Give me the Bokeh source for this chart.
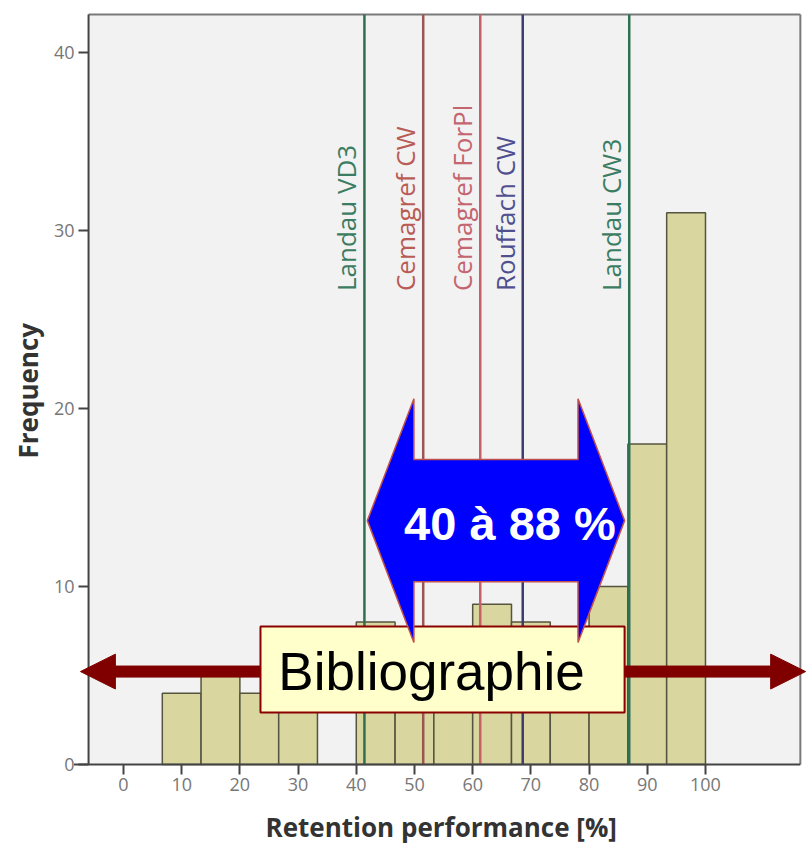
import numpy as np
from bokeh.plotting import figure
from bokeh.models import Range1d, FixedTicker, ColumnDataSource
from bokeh.core.properties import value
from bokeh.embed import file_html
from bokeh.resources import INLINE

# ---- data ----
bin_left = [6.67, 13.33, 20.0, 26.67, 33.33, 40.0, 46.67, 53.33, 60.0, 66.67, 73.33, 80.0, 86.67, 93.33]
bin_right = [13.33, 20.0, 26.67, 33.33, 40.0, 46.67, 53.33, 60.0, 66.67, 73.33, 80.0, 86.67, 93.33, 100.0]
counts = [4, 5, 4, 3, 0, 8, 7, 6, 9, 8, 7, 10, 18, 31]

ref_names = ["Landau VD3", "Cemagref CW", "Cemagref ForPl", "Rouffach CW", "Landau CW3"]
ref_values = [41.4, 51.5, 61.3, 68.6, 86.9]
ref_line_colors = ["#2f6f52", "#9a5650", "#c8606a", "#3c3c72", "#2f6f52"]
ref_text_colors = ["#3b7d62", "#b85c55", "#c46570", "#505090", "#3b7d62"]

x_ticks = [0, 10, 20, 30, 40, 50, 60, 70, 80, 90, 100]
y_ticks = [0, 10, 20, 30, 40]

x_title = "Retention performance [%]"
y_title = "Frequency"
range_label = "40 à 88 %"
biblio_label = "Bibliographie"

# ---- layout constants ----
X_MIN, X_MAX = -6.0, 116.3
Y_TOP = 42.13

p = figure(width=808, height=848,
           x_range=Range1d(-21.13, 117.70), y_range=Range1d(-4.72, 42.36),
           output_backend="svg", toolbar_location=None,
           min_border_left=0, min_border_right=0,
           min_border_top=10, min_border_bottom=0,
           background_fill_color="white", border_fill_color="white")
p.outline_line_color = None
p.grid.visible = False

# plot area background
p.quad(left=[X_MIN], right=[X_MAX], bottom=[0], top=[Y_TOP],
       fill_color="#f2f2f2", line_color=None)
# top & right borders (light)
p.segment(x0=[X_MIN, X_MAX], y0=[Y_TOP, 0], x1=[X_MAX, X_MAX], y1=[Y_TOP, Y_TOP],
          line_color="#7a7a7a", line_width=2)

# bars
bars = ColumnDataSource(dict(left=bin_left, right=bin_right, top=counts, bottom=[0] * len(counts)))
p.quad(left="left", right="right", top="top", bottom="bottom", source=bars,
       fill_color="#d9d6a0", line_color="#55553f", line_width=1.5)

# reference lines
refs = ColumnDataSource(dict(x=ref_values, name=ref_names, lc=ref_line_colors, tc=ref_text_colors,
                             y0=[0] * 5, y1=[Y_TOP] * 5, ly=[26.6] * 5))
p.segment(x0="x", y0="y0", x1="x", y1="y1", line_color="lc", line_width=2.5, source=refs)
p.text(x="x", y="ly", text="name", angle=np.pi / 2, text_align="left", text_baseline="bottom",
       text_color="tc", text_font=value("Open Sans"), text_font_size="26px", x_offset=0, source=refs)

# left & bottom axis lines (dark)
p.segment(x0=[X_MIN, -8.5], y0=[0, 0], x1=[X_MIN, X_MAX], y1=[Y_TOP, 0],
          line_color="#444444", line_width=2)

# axes
p.xaxis.ticker = FixedTicker(ticks=x_ticks)
p.yaxis.ticker = FixedTicker(ticks=y_ticks)
p.yaxis.fixed_location = X_MIN
p.xaxis.fixed_location = 0
for ax in (p.xaxis, p.yaxis):
    ax.axis_line_color = None
    ax.major_tick_line_color = "#444444"
    ax.major_tick_line_width = 2
    ax.major_tick_out = 10
    ax.major_tick_in = 0
    ax.minor_tick_line_color = None
    ax.major_label_text_font = "Open Sans"
    ax.major_label_text_font_size = "18px"
    ax.major_label_text_color = "#777777"
    ax.major_label_standoff = 4

# axis titles
p.text(x=[54.6], y=[-3.5], text=[x_title], text_font=value("Open Sans"), text_font_style="bold",
       text_font_size="26px", text_color="#333333", text_align="center", text_baseline="alphabetic")
p.text(x=[-16.4], y=[21.0], text=[y_title], angle=np.pi / 2, text_font=value("Open Sans"),
       text_font_style="bold", text_font_size="26px", text_color="#333333",
       text_align="center", text_baseline="middle")

# dark red double arrow
cy, th, hh, hl = 5.22, 0.31, 0.98, 6.0
x0, x1 = -7.39, 117.2
rx = [x0, x0 + hl, x0 + hl, x1 - hl, x1 - hl, x1, x1 - hl, x1 - hl, x0 + hl, x0 + hl]
ry = [cy, cy + hh, cy + th, cy + th, cy + hh, cy, cy - hh, cy - th, cy - th, cy - hh]
p.patch(rx, ry, fill_color="#800000", line_color="#800000", line_width=1)

# Bibliographie box
p.quad(left=[23.54], right=[86.1], bottom=[2.92], top=[7.75],
       fill_color="#ffffcc", line_color="#8b0000", line_width=2)
p.text(x=[26.6], y=[5.2], text=[biblio_label], text_font=value("Liberation Sans"),
       text_font_size="53px", text_color="black", text_align="left", text_baseline="alphabetic")

# blue double arrow
bcy, bsh, bhh, bhl = 13.7, 3.43, 6.85, 8.0
bx0, bx1 = 41.9, 86.1
bx = [bx0, bx0 + bhl, bx0 + bhl, bx1 - bhl, bx1 - bhl, bx1, bx1 - bhl, bx1 - bhl, bx0 + bhl, bx0 + bhl]
by = [bcy, bcy + bhh, bcy + bsh, bcy + bsh, bcy + bhh, bcy, bcy - bhh, bcy - bsh, bcy - bsh, bcy - bhh]
p.patch(bx, by, fill_color="#0000ff", line_color="#c0504d", line_width=1.5)
p.text(x=[66.4], y=[13.55], text=[range_label], text_font=value("Liberation Sans"),
       text_font_style="bold", text_font_size="47px", text_color="white",
       text_align="center", text_baseline="alphabetic")

open("out.html", "w").write(file_html(p, INLINE))
